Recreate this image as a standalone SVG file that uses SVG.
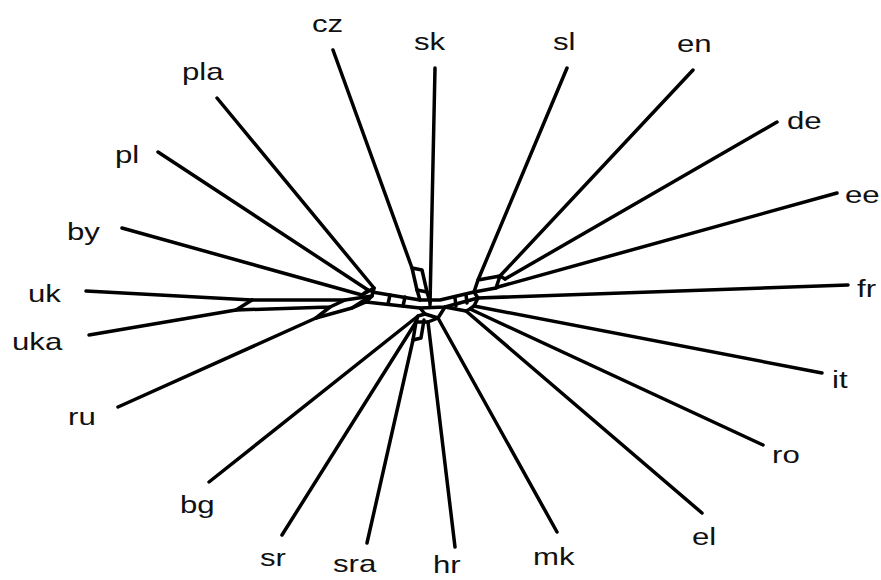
<svg xmlns="http://www.w3.org/2000/svg" width="881" height="580" viewBox="0 0 881 580">
<style>
.e{fill:none;stroke:#000;stroke-width:3.5;stroke-linecap:round;stroke-linejoin:round}
.t{font-family:"Liberation Sans",Arial,sans-serif;font-size:24px;fill:#111}
</style>
<rect width="881" height="580" fill="#fff"/>
<g id="connectors" class="e">
<path d="M333,50 L412,268"/>
<path d="M435,68 L430,305"/>
<path d="M567,68 L478,280"/>
<path d="M693,70 L500,276"/>
<path d="M777,122 L505,279"/>
<path d="M837,193 L498,287"/>
<path d="M848,285 L478,298"/>
<path d="M822,373 L474,306"/>
<path d="M763,445 L470,309"/>
<path d="M702,513 L466,311"/>
<path d="M557,532 L438,318"/>
<path d="M455,547 L428,322"/>
<path d="M367,543 L413,340"/>
<path d="M282,535 L416,322"/>
<path d="M209,482 L418,316"/>
<path d="M118,407 L316,318"/>
<path d="M89,335 L236,310"/>
<path d="M86,291 L252,300"/>
<path d="M122,228 L362,295"/>
<path d="M158,152 L368,290"/>
<path d="M217,98 L374,288"/>
<path d="M252,300 L345,300 L372,296"/>
<path d="M236,310 L252,300"/>
<path d="M236,310 L330,307 L345,300"/>
<path d="M316,318 L330,307"/>
<path d="M316,318 L352,308 L366,302"/>
<path d="M352,308 L366,299"/>
<path d="M362,295 L374,288 L372,296 L366,302"/>
<path d="M368,290 L362,295"/>
<path d="M372,292 L420,300 L440,300 L474,292"/>
<path d="M366,302 L420,308 L445,307 L478,298"/>
<path d="M390,295 L388,304"/>
<path d="M405,297 L403,306"/>
<path d="M455,298 L456,306"/>
<path d="M466,295 L467,303"/>
<path d="M412,268 L422,270 L427,292 L417,290 Z"/>
<path d="M417,290 L420,300"/>
<path d="M427,292 L430,302"/>
<path d="M478,280 L500,276 L496,288 L474,292 Z"/>
<path d="M505,279 L500,276"/>
<path d="M498,287 L496,288"/>
<path d="M474,292 L478,298 L474,306 L470,309 L466,311 L445,307"/>
<path d="M420,308 L425,314 L438,318 L445,307"/>
<path d="M425,314 L418,316 L416,322 L428,322 L438,318"/>
<path d="M413,340 L416,322"/>
<path d="M413,340 L421,338 L424,320"/>
</g>
<g id="n-cz"><text class="t" transform="translate(312,32) scale(1.3,1)">cz</text></g>
<g id="n-sk"><text class="t" transform="translate(414,50) scale(1.3,1)">sk</text></g>
<g id="n-sl"><text class="t" transform="translate(553,50) scale(1.3,1)">sl</text></g>
<g id="n-en"><text class="t" transform="translate(677,52) scale(1.3,1)">en</text></g>
<g id="n-de"><text class="t" transform="translate(787,129) scale(1.3,1)">de</text></g>
<g id="n-ee"><text class="t" transform="translate(845,203) scale(1.3,1)">ee</text></g>
<g id="n-fr"><text class="t" transform="translate(857,297) scale(1.3,1)">fr</text></g>
<g id="n-it"><text class="t" transform="translate(832,388) scale(1.3,1)">it</text></g>
<g id="n-ro"><text class="t" transform="translate(772,463) scale(1.3,1)">ro</text></g>
<g id="n-el"><text class="t" transform="translate(692,545) scale(1.3,1)">el</text></g>
<g id="n-mk"><text class="t" transform="translate(533,565) scale(1.3,1)">mk</text></g>
<g id="n-hr"><text class="t" transform="translate(433,573) scale(1.3,1)">hr</text></g>
<g id="n-sra"><text class="t" transform="translate(333,572) scale(1.3,1)">sra</text></g>
<g id="n-sr"><text class="t" transform="translate(260,566) scale(1.3,1)">sr</text></g>
<g id="n-bg"><text class="t" transform="translate(180,513) scale(1.3,1)">bg</text></g>
<g id="n-ru"><text class="t" transform="translate(68,425) scale(1.3,1)">ru</text></g>
<g id="n-uka"><text class="t" transform="translate(12,350) scale(1.3,1)">uka</text></g>
<g id="n-uk"><text class="t" transform="translate(28,302) scale(1.3,1)">uk</text></g>
<g id="n-by"><text class="t" transform="translate(67,240) scale(1.3,1)">by</text></g>
<g id="n-pl"><text class="t" transform="translate(115,163) scale(1.3,1)">pl</text></g>
<g id="n-pla"><text class="t" transform="translate(182,80) scale(1.3,1)">pla</text></g>
</svg>
